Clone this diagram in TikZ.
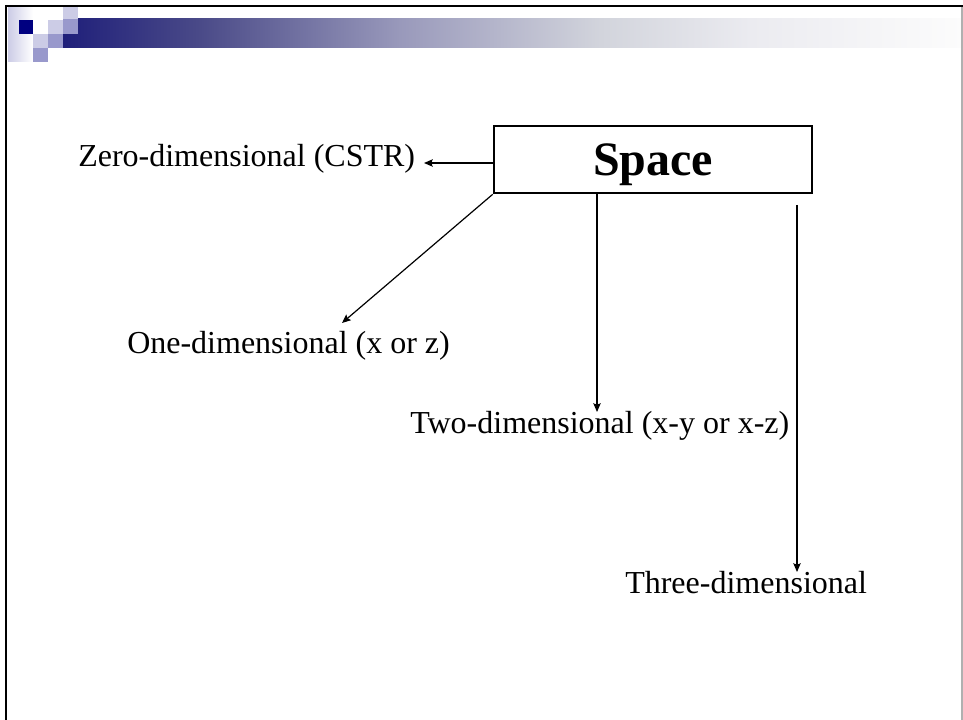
\documentclass[tikz,border=0pt]{standalone}
\usepackage{fontspec}
\setmainfont{Liberation Serif}
\usetikzlibrary{arrows.meta}
\definecolor{navy}{RGB}{0,0,128}
\definecolor{barnavy}{RGB}{31,31,122}
\definecolor{lav}{RGB}{204,204,230}
\definecolor{midlav}{RGB}{153,153,204}
\definecolor{barA}{RGB}{74,74,136}
\definecolor{barB}{RGB}{153,153,187}
\definecolor{barC}{RGB}{210,212,220}
\definecolor{barD}{RGB}{235,235,240}
\definecolor{barE}{RGB}{252,252,252}
\definecolor{edgegray}{RGB}{176,176,176}

\tikzset{
  label/.style={anchor=base west, inner sep=0pt, font=\fontsize{24}{28}\selectfont},
  conn/.style={-{Stealth[length=6.5pt,width=5.5pt,inset=1pt]}, line width=0.9pt},
  spacebox/.style={draw, line width=2pt, minimum width=238.5pt, minimum height=50.25pt,
    text depth=0pt, font=\fontsize{36}{40}\selectfont\bfseries}
}

\begin{document}
\begin{tikzpicture}[x=0.75pt, y=-0.75pt]

% ── Page (pixel units, y downwards) ──────────────────────────────────
\def\pageW{963}
\def\pageH{720}
\useasboundingbox (0,0) rectangle (\pageW,\pageH);
\fill[white] (0,0) rectangle (\pageW,\pageH);

% ── Title bar: fading band ───────────────────────────────────────────
\shade[left color=barnavy, right color=barA] (63,19) rectangle (200,48);
\shade[left color=barA, right color=barB] (200,19) rectangle (400,48);
\shade[left color=barB, right color=barC] (400,19) rectangle (600,48);
\shade[left color=barC, right color=barD] (600,19) rectangle (750,48);
\shade[left color=barD, right color=barE] (750,19) rectangle (\pageW,48);

% ── Title bar: pixel squares ─────────────────────────────────────────
\shade[left color=lav, right color=white] (8,8) rectangle (33,62);
\fill[navy] (19,20) rectangle (33,34);
\fill[lav] (33,34) rectangle (48,48);
\fill[lav] (48,20) rectangle (63,34);
\fill[lav] (63,7) rectangle (78,19);
\fill[midlav] (33,48) rectangle (48,62);
\fill[midlav] (48,34) rectangle (63,48);
\fill[midlav] (63,19) rectangle (78,34);

% ── Frame ────────────────────────────────────────────────────────────
\draw[line width=2pt] (5,6) -- (\pageW,6);
\draw[line width=2pt] (6,5) -- (6,\pageH);
\draw[edgegray, line width=1pt] (962,7) -- (962,\pageH);

% ── Nodes ────────────────────────────────────────────────────────────
\node[spacebox] (space) at (653,159.5) {Space};
\node[label] (zero) at (78,167) {Zero-dimensional (CSTR)};
\node[label] (one) at (127,353) {One-dimensional (x or z)};
\node[label] (two) at (410,433) {Two-dimensional (x-y or x-z)};
\node[label] (three) at (625,593) {Three-dimensional};

% arrow ends
\coordinate (zerotip) at (424,163);
\coordinate (onetip) at (342,323);
\coordinate (twotip) at (597,412);
\coordinate (threetop) at (797,205);
\coordinate (threetip) at (797,572);

% ── Connectors ───────────────────────────────────────────────────────
\draw[conn] (zerotip -| space.west) -- (zerotip);
\draw[conn] (space.south west) -- (onetip);
\draw[conn] (twotip |- space.south) -- (twotip);
\draw[conn] (threetop) -- (threetip);

\end{tikzpicture}
\end{document}
